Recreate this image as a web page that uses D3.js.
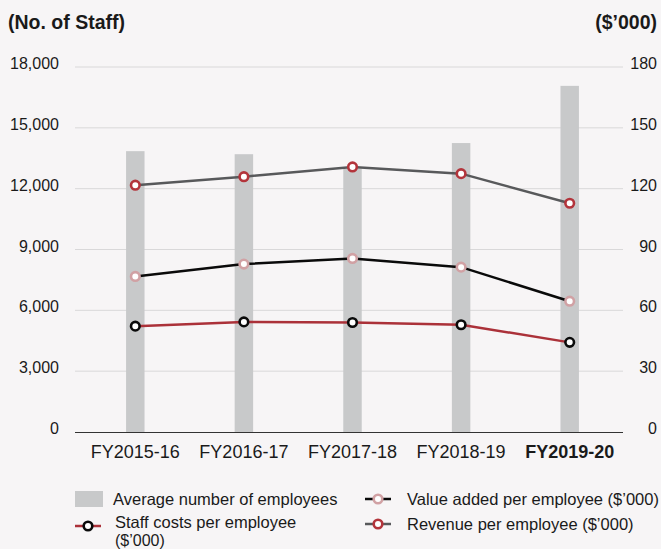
<!DOCTYPE html>
<html>
<head>
<meta charset="utf-8">
<script src="https://cdn.jsdelivr.net/npm/d3@7"></script>
<style>
  body { margin: 0; background: #f7f5f6; }
  svg { display: block; font-family: "Liberation Sans", Arial, sans-serif; }
</style>
</head>
<body>
<svg class="chart"></svg>
<script>
const width = 661;
const height = 549;

// data
const years = ["FY2015-16", "FY2016-17", "FY2017-18", "FY2018-19", "FY2019-20"];
const employees = [13850, 13700, 13000, 14250, 17070];
const revenue = [121.7, 125.9, 130.7, 127.4, 112.8];
const valueAdded = [76.7, 82.8, 85.6, 81.3, 64.5];
const staffCosts = [52.2, 54.3, 54.0, 52.9, 44.2];
const leftTicks = [0, 3000, 6000, 9000, 12000, 15000, 18000];
const rightTicks = [0, 30, 60, 90, 120, 150, 180];

const svg = d3.select(".chart").attr("width", width).attr("height", height);

const x = d3.scaleBand().domain(years).range([81, 624]).paddingInner(0.83).paddingOuter(0.415);
const yL = d3.scaleLinear().domain([0, 18000]).range([432, 67]);
const yR = d3.scaleLinear().domain([0, 180]).range([432, 67]);

// titles
svg.append("text").attr("x", 8).attr("y", 29).attr("font-size", 19.5).attr("font-weight", "bold")
   .attr("fill", "#1a1a1a").text("(No. of Staff)");
svg.append("text").attr("x", 657).attr("y", 29).attr("font-size", 19.5).attr("font-weight", "bold")
   .attr("text-anchor", "end").attr("fill", "#1a1a1a").text("($\u2019000)");

// grid lines
svg.append("g").selectAll("line").data(leftTicks.slice(1)).enter().append("line")
   .attr("x1", 75).attr("x2", 623)
   .attr("y1", d => yL(d)).attr("y2", d => yL(d))
   .attr("stroke", "#d9d8d9").attr("stroke-width", 1);

// left axis
const leftAxis = svg.append("g").attr("transform", "translate(75,0)")
   .call(d3.axisLeft(yL).tickValues(leftTicks).tickSize(0).tickPadding(16).tickFormat(d3.format(",")));
leftAxis.select(".domain").remove();
leftAxis.selectAll("text").attr("font-size", 16).attr("dy", "0.1em").attr("fill", "#1a1a1a")
   .style("font-family", "Liberation Sans, Arial, sans-serif");

// right axis
const rightAxis = svg.append("g").attr("transform", "translate(657,0)")
   .call(d3.axisLeft(yR).tickValues(rightTicks).tickSize(0).tickPadding(0));
rightAxis.select(".domain").remove();
rightAxis.selectAll("text").attr("font-size", 16).attr("dy", "0.1em").attr("fill", "#1a1a1a")
   .style("font-family", "Liberation Sans, Arial, sans-serif");

// bars
svg.append("g").selectAll("rect").data(employees).enter().append("rect")
   .attr("x", (d, i) => x(years[i]))
   .attr("width", x.bandwidth())
   .attr("y", d => yL(d))
   .attr("height", d => yL(0) - yL(d))
   .attr("fill", "#c8c9ca");

// baseline
svg.append("line").attr("x1", 75).attr("x2", 623).attr("y1", yL(0) + 0.5).attr("y2", yL(0) + 0.5)
   .attr("stroke", "#333").attr("stroke-width", 1.2);

// x axis labels
const xAxis = svg.append("g").attr("transform", "translate(0," + yL(0) + ")")
   .call(d3.axisBottom(x).tickSize(0).tickPadding(13));
xAxis.select(".domain").remove();
xAxis.selectAll("text").attr("font-size", 18).attr("fill", "#1a1a1a")
   .style("font-family", "Liberation Sans, Arial, sans-serif")
   .attr("font-weight", (d, i) => i === years.length - 1 ? "bold" : "normal");

// lines
const series = [
  {vals: revenue, line: "#58595b", mark: "#b3343b"},
  {vals: valueAdded, line: "#0a0a0a", mark: "#d1a1a4"},
  {vals: staffCosts, line: "#ab3139", mark: "#0a0a0a"}
];
const lineGen = d3.line().x((d, i) => x(years[i]) + x.bandwidth() / 2).y(d => yR(d));

series.forEach(s => {
  svg.append("path").datum(s.vals).attr("d", lineGen)
     .attr("fill", "none").attr("stroke", s.line).attr("stroke-width", 2.5);
  svg.append("g").selectAll("circle").data(s.vals).enter().append("circle")
     .attr("cx", (d, i) => x(years[i]) + x.bandwidth() / 2)
     .attr("cy", d => yR(d))
     .attr("r", 4.3)
     .attr("fill", "#fff").attr("stroke", s.mark).attr("stroke-width", 2.6);
});

// legend
const legend = svg.append("g").attr("font-size", 16.5).attr("fill", "#1a1a1a");
legend.append("rect").attr("x", 75).attr("y", 491).attr("width", 28).attr("height", 16).attr("fill", "#c8c9ca");
legend.append("text").attr("x", 113).attr("y", 505).text("Average number of employees");

function legendLine(x0, cy, lineC, markC) {
  legend.append("line").attr("x1", x0).attr("x2", x0 + 26).attr("y1", cy).attr("y2", cy)
        .attr("stroke", lineC).attr("stroke-width", 2.5);
  legend.append("circle").attr("cx", x0 + 13).attr("cy", cy).attr("r", 4.3)
        .attr("fill", "#fff").attr("stroke", markC).attr("stroke-width", 2.6);
}
legendLine(75, 526, series[2].line, series[2].mark);
legend.append("text").attr("x", 115).attr("y", 528).text("Staff costs per employee");
legend.append("text").attr("x", 115).attr("y", 546).attr("font-size", 16).text("($\u2019000)");

legendLine(365, 499, series[1].line, series[1].mark);
legend.append("text").attr("x", 407).attr("y", 505).text("Value added per employee ($\u2019000)");
legendLine(365, 524, series[0].line, series[0].mark);
legend.append("text").attr("x", 407).attr("y", 530).text("Revenue per employee ($\u2019000)");
</script>
</body>
</html>
